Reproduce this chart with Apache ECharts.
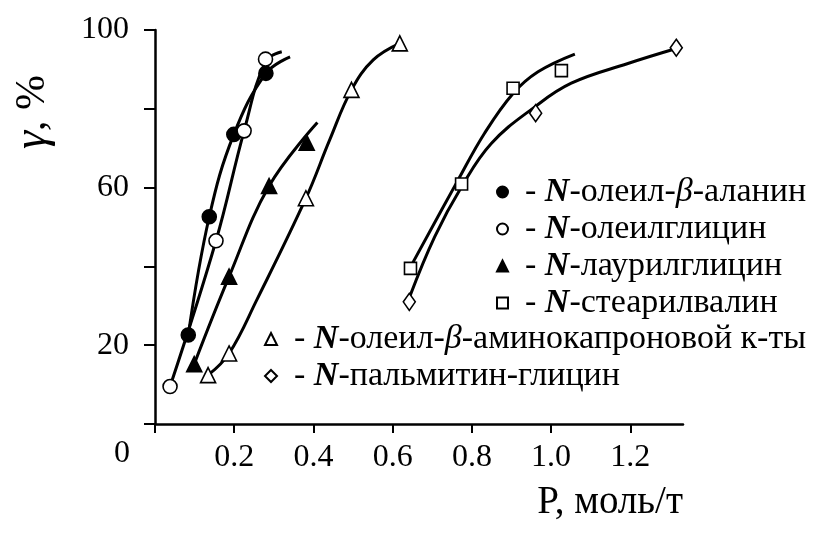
<!DOCTYPE html>
<html>
<head>
<meta charset="utf-8">
<script src="https://cdn.jsdelivr.net/npm/echarts@6/dist/echarts.min.js"></script>
<style>html,body{margin:0;padding:0;background:#fff;}#c{width:819px;height:534px;}</style>
</head>
<body>
<div id="c"></div>
<script>
// ---- data ----
const seriesNames = [
  'N-олеил-β-аланин',
  'N-олеилглицин',
  'N-лаурилглицин',
  'N-стеарилвалин',
  'N-олеил-β-аминокапроновой к-ты',
  'N-пальмитин-глицин'
];
// measured points [P, γ]
const alaninPts   = [[0.084,22.6],[0.137,52.6],[0.199,73.5],[0.280,89.0]];
const glycinPts   = [[0.038,9.5],[0.154,46.5],[0.225,74.4],[0.279,92.6]];
const laurylPts   = [[0.099,15.2],[0.187,37.4],[0.288,60.4],[0.383,71.4]];
const stearylPts  = [[0.645,39.5],[0.774,60.9],[0.904,85.2],[1.026,89.7]];
const caproicPts  = [[0.134,12.4],[0.187,17.9],[0.381,57.3],[0.496,84.8],[0.618,96.6]];
const palmitPts   = [[0.642,31.0],[0.961,78.9],[1.316,95.5]];
// hand-drawn fitting curves [P, γ]
const alaninCurve  = [[0.084,22.6],[0.137,52.6],[0.199,73.5],[0.280,89.0],[0.341,93.2]];
const glycinCurve  = [[0.038,9.5],[0.154,46.5],[0.225,74.4],[0.279,92.0],[0.320,94.5]];
const laurylCurve  = [[0.099,15.2],[0.187,37.4],[0.288,60.4],[0.410,76.5]];
const stearylCurve = [[0.643,39.5],[0.765,61.9],[0.832,73.8],[0.904,83.9],[0.967,89.4],[1.060,93.9]];
const caproicCurve = [[0.134,12.4],[0.187,17.9],[0.257,31.5],[0.381,57.3],[0.441,72.1],[0.496,84.8],[0.551,92.4],[0.618,96.6]];
const palmitCurve  = [[0.643,32.3],[0.706,47.5],[0.774,60.2],[0.849,71.2],[0.959,80.5],[1.051,86.5],[1.194,91.5],[1.316,95.3]];
const xTickLabels = [0.2,0.4,0.6,0.8,1.0,1.2];
const xTicks = [0,0.2,0.4,0.6,0.8,1.0,1.2];
const yTickLabels = [20,60,100];
const yTicks = [0,20,40,60,80,100];

const FONT = '"Liberation Serif","Times New Roman",serif';
const LF = 34;
const richStyles = {
  t: {fontFamily: FONT, fontSize: LF, color: '#000', lineHeight: LF},
  b: {fontFamily: FONT, fontSize: LF, fontWeight: 'bold', fontStyle: 'italic', color: '#000', lineHeight: LF},
  i: {fontFamily: FONT, fontSize: LF, fontStyle: 'italic', color: '#000', lineHeight: LF}
};
function richName(name) {
  const parts = name.slice(1).split('β');
  return '{t|- }{b|N}' + parts.map(s => '{t|' + s + '}').join('{i|β}');
}

const markers = [
  {pts: alaninPts,  symbol: 'circle',   size: 14, fill: '#000'},
  {pts: glycinPts,  symbol: 'circle',   size: 14, fill: '#fff'},
  {pts: laurylPts,  symbol: 'triangle', size: 15, fill: '#000'},
  {pts: stearylPts, symbol: 'rect',     size: 12, fill: '#fff'},
  {pts: caproicPts, symbol: 'triangle', size: 15, fill: '#fff'},
  {pts: palmitPts,  symbol: 'diamond',  size: [12,17], fill: '#fff'}
];
const curves = [alaninCurve, glycinCurve, laurylCurve, stearylCurve, caproicCurve, palmitCurve];

const series = [];
curves.forEach((c, k) => series.push({
  type: 'line', name: 'curve' + k, data: c, smooth: 0.4, showSymbol: false, symbol: 'none',
  lineStyle: {color: '#000', width: 3}, z: 2, silent: true
}));
markers.forEach((m, k) => series.push({
  type: 'scatter', name: seriesNames[k], data: m.pts, symbol: m.symbol, symbolSize: m.size,
  itemStyle: {color: m.fill, borderColor: '#000', borderWidth: 1.6, opacity: 1}, z: 5
}));

const chart = echarts.init(document.getElementById('c'));
chart.setOption({
  backgroundColor: '#fff',
  animation: false,
  grid: {left: 155, right: 136, top: 30, bottom: 110},
  xAxis: {
    type: 'value', min: 0, max: 1.333,
    axisLine: {lineStyle: {color: '#000', width: 2.5}},
    axisTick: {show: true, length: 9, lineStyle: {color: '#000', width: 2}, customValues: xTicks},
    axisLabel: {customValues: xTickLabels, formatter: v => v.toFixed(1), color: '#000', fontFamily: FONT, fontSize: 32, margin: 18},
    splitLine: {show: false}
  },
  yAxis: {
    type: 'value', min: 0, max: 100, interval: 20,
    axisLine: {show: true, lineStyle: {color: '#000', width: 2.5}},
    axisTick: {show: true, length: 11, lineStyle: {color: '#000', width: 2}, customValues: yTicks},
    axisLabel: {customValues: yTickLabels, color: '#000', fontFamily: FONT, fontSize: 32, margin: 26},
    splitLine: {show: false}
  },
  legend: [
    {
      orient: 'vertical', left: 491, top: 170, itemGap: 3, itemWidth: 11, itemHeight: 11,
      data: seriesNames.slice(0, 4), selectedMode: false,
      formatter: richName,
      textStyle: {padding: [0, 0, 0, 12], rich: richStyles}
    },
    {
      orient: 'vertical', left: 259, top: 317, itemGap: 3, itemWidth: 12, itemHeight: 12,
      data: seriesNames.slice(4), selectedMode: false,
      formatter: richName,
      textStyle: {padding: [0, 0, 0, 12], rich: richStyles}
    }
  ],
  graphic: [
    {type: 'text', x: 122, y: 454, style: {text: '0', font: '32px ' + FONT, fill: '#000', align: 'center', verticalAlign: 'middle'}},
    {type: 'text', x: 683, y: 503, style: {text: 'P, моль/т', font: '39px ' + FONT, fill: '#000', align: 'right', verticalAlign: 'middle'}},
    {type: 'text', x: 33, y: 112, rotation: Math.PI / 2,
     style: {text: '{i|γ}{t|, %}', rich: {
       i: {fontFamily: FONT, fontSize: 46, fontStyle: 'italic', fill: '#000'},
       t: {fontFamily: FONT, fontSize: 42, fill: '#000'}
     }, align: 'center', verticalAlign: 'middle'}}
  ],
  series: series
});
</script>
</body>
</html>
